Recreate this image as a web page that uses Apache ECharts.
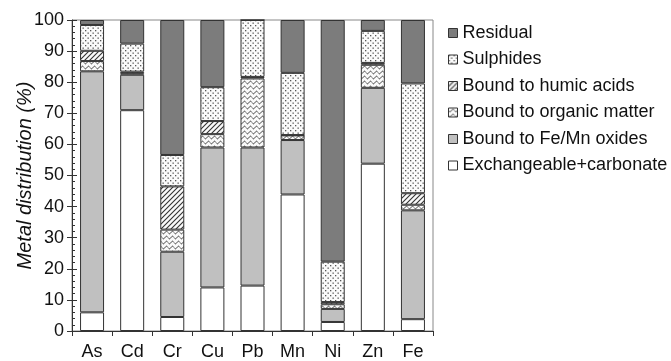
<!DOCTYPE html>
<html><head><meta charset="utf-8">
<script src="https://cdn.jsdelivr.net/npm/echarts@6/dist/echarts.min.js"></script>
<style>html,body{margin:0;padding:0;background:#fff}#c{width:671px;height:361px}</style>
</head><body><div id="c"></div>
<script>
const categories = ['As','Cd','Cr','Cu','Pb','Mn','Ni','Zn','Fe'];
const exchangeable = [6, 71, 4.5, 14, 14.6, 43.9, 2.9, 53.8, 3.8];
const feMnOxides   = [77.5, 11.4, 21, 45, 44.4, 17.5, 4.2, 24.4, 35];
const organic      = [3.3, 0.5, 7.1, 4.3, 22.2, 1.5, 1.5, 7.4, 1.8];
const humic        = [3.3, 0.5, 13.9, 4.2, 0.5, 0.1, 0.7, 0.6, 3.7];
const sulphides    = [8.3, 9, 10.1, 10.9, 18.3, 20, 13, 10.3, 35.3];
const residual     = [1.6, 7.6, 43.4, 21.6, 0, 17, 77.7, 3.5, 20.4];
const yTicks = [0,10,20,30,40,50,60,70,80,90,100];

function pattern(w, h, draw) {
  const c = document.createElement('canvas');
  c.width = w; c.height = h;
  const g = c.getContext('2d');
  g.fillStyle = '#fafafa'; g.fillRect(0, 0, w, h);
  draw(g);
  return { image: c, repeat: 'repeat' };
}
const dots = pattern(5, 5, g => {
  g.fillStyle = '#555';
  g.fillRect(0, 0, 1.3, 1.3);
  g.fillRect(2.5, 2.5, 1.3, 1.3);
});
const hatch = pattern(5, 5, g => {
  g.strokeStyle = '#333'; g.lineWidth = 1.1;
  g.beginPath();
  g.moveTo(-1, 6); g.lineTo(6, -1);
  g.moveTo(-1, 1); g.lineTo(1, -1);
  g.moveTo(4, 6); g.lineTo(6, 4);
  g.stroke();
});
const wavy = pattern(6, 5, g => {
  g.strokeStyle = '#333'; g.lineWidth = 1;
  g.beginPath();
  for (let x = 0; x <= 6; x += 0.25) {
    const y = 2.5 + 1.3 * Math.sin(x / 6 * 2 * Math.PI);
    if (x === 0) g.moveTo(x, y); else g.lineTo(x, y);
  }
  g.stroke();
});

const font = 'Liberation Sans';
function s(name, data, color) {
  return {
    name, type: 'bar', stack: 'a', data, barWidth: 24,
    itemStyle: { color, borderColor: '#333', borderWidth: 1 },
    emphasis: { disabled: true }
  };
}
const chart = echarts.init(document.getElementById('c'));
chart.setOption({
  animation: false,
  textStyle: { fontFamily: font },
  grid: { left: 72, right: 238, top: 20, bottom: 28, show: true, borderColor: '#888', borderWidth: 1 },
  legend: {
    orient: 'vertical', left: 443, top: 19, itemWidth: 9, itemHeight: 9, itemGap: 8.5, itemTextGap: 6,
    textStyle: { fontSize: 18, color: '#111', fontFamily: font },
    itemStyle: { borderColor: '#333', borderWidth: 1 },
    data: ['Residual','Sulphides','Bound to humic acids','Bound to organic matter','Bound to Fe/Mn oxides','Exchangeable+carbonate'],
    icon: 'rect'
  },
  xAxis: {
    type: 'category', data: categories,
    axisLine: { lineStyle: { color: '#333' } },
    axisTick: { show: true, length: 5, lineStyle: { color: '#333' } },
    axisLabel: { fontSize: 18, color: '#111', margin: 12 }
  },
  yAxis: [{
    type: 'value', min: 0, max: 100, interval: 10,
    name: 'Metal distribution (%)', nameLocation: 'middle', nameGap: 37, nameMoveOverlap: false,
    nameTextStyle: { fontSize: 20, fontStyle: 'italic', color: '#111' },
    axisLine: { show: true, lineStyle: { color: '#333' } },
    axisTick: { show: true, length: 5, lineStyle: { color: '#333' } },
    axisLabel: { fontSize: 18, color: '#111', margin: 8 },
    splitLine: { show: false }
  }, {
    type: 'value', min: 0, max: 100, interval: 10, position: 'left',
    axisLine: { show: false },
    axisTick: { show: true, inside: true, length: 5, lineStyle: { color: '#333' } },
    minorTick: { show: true, splitNumber: 5, length: 3, lineStyle: { color: '#333' } },
    axisLabel: { show: false },
    splitLine: { show: false }
  }],
  series: [
    s('Exchangeable+carbonate', exchangeable, '#ffffff'),
    s('Bound to Fe/Mn oxides', feMnOxides, '#c0c0c0'),
    s('Bound to organic matter', organic, wavy),
    s('Bound to humic acids', humic, hatch),
    s('Sulphides', sulphides, dots),
    s('Residual', residual, '#7c7c7c')
  ]
});
</script></body></html>
